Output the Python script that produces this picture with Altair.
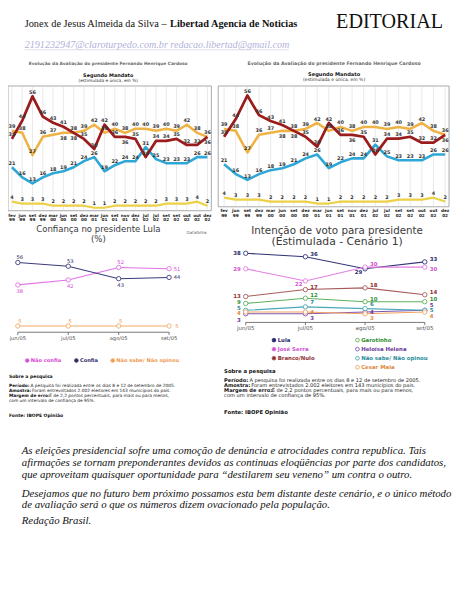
import altair as alt
import pandas as pd

# ---------------- Avaliação do presidente FHC (Segundo Mandato) ----------------
fhc_meses = ["fev", "jun", "set", "dez", "mar", "jun", "set", "dez", "mar", "jun",
             "set", "nov", "dez", "jul", "jul", "set", "set", "out", "out", "dez"]
fhc_anos = ["99", "99", "99", "99", "00", "00", "00", "00", "01", "01",
            "01", "01", "01", "02", "02", "02", "02", "02", "02", "02"]
fhc_series = ["Não sabe", "Ótimo/Bom", "Regular", "Ruim/Péssimo"]
fhc_ns = [4, 3, 3, 3, 2, 2, 2, 2, 1, 1, 2, 2, 2, 2, 2, 3, 3, 3, 4, 2]
fhc_otimo = [21, 16, 13, 16, 18, 19, 21, 24, 26, 19, 22, 24, 24, 31, 25, 23, 23, 23, 26, 26]
fhc_regular = [39, 38, 27, 36, 37, 38, 38, 39, 42, 38, 40, 38, 40, 40, 39, 40, 39, 42, 38, 36]
fhc_ruim = [35, 44, 56, 46, 43, 41, 38, 35, 30, 42, 36, 36, 35, 26, 34, 34, 35, 32, 32, 36]
fhc_cores = ["#ecd045", "#2ea6d6", "#efb244", "#9b1c1c"]

# ---------------- Confiança no presidente Lula ----------------
conf_meses = ["jun/05", "jul/05", "ago/05", "set/05"]
conf_series = ["Não confia", "Confia", "Não sabe/ Não opinou"]
conf_nao = [38, 42, 52, 51]
conf_sim = [56, 53, 43, 44]
conf_ns = [5, 5, 5, 5]
conf_cores = ["#e272e6", "#3c3c7c", "#f4aa66"]
conf_cores_txt = ["#d545d5", "#2c2c66", "#f09a50"]

# ---------------- Intenção de voto (Estimulada - Cenário 1) ----------------
voto_meses = ["jun/05", "jul/05", "ago/05", "set/05"]
voto_series = ["Lula", "José Serra", "Branco/Nulo", "Garotinho",
               "Heloísa Helena", "Não sabe/ Não opinou", "Cesar Maia"]
voto_lula = [38, 36, 29, 33]
voto_serra = [29, 22, 30, 30]
voto_branco = [13, 17, 18, 14]
voto_garotinho = [9, 12, 10, 10]
voto_heloisa = [3, 3, 4, 5]
voto_ns = [5, 7, 6, 5]
voto_cesar = [4, 4, 3, 4]
voto_cores = ["#35357a", "#e37de3", "#a85a5a", "#5cb05c", "#7b55b5", "#4aa8b8", "#f3a35f"]
voto_cores_txt = ["#2a2a6a", "#d050d0", "#903030", "#2f8f2f", "#6a3a9a", "#2a8a9a", "#e08a40"]

nota_linhas = [
    ("Período:", "A pesquisa foi realizada entre os dias 8 e 12 de setembro de 2005."),
    ("Amostra:", "Foram entrevistados 2.002 eleitores em 143 municípios do país."),
    ("Margem de erro:", "É de 2,2 pontos percentuais, para mais ou para menos,"),
    ("", "com um intervalo de confiança de 95%."),
]

editorial = [
    "As eleições presidencial sofre uma comoção de denúncia e atrocidades contra republica. Tais",
    "afirmações se tornam preponderantes devidos as continuas eloqüências por parte dos candidatos,",
    "que aproveitam quaisquer oportunidade para \u201cdestilarem seu veneno\u201d um contra o outro.",
    "Desejamos que no futuro bem próximo possamos esta bem distante deste cenário, e o único método",
    "de avaliação será o que os números dizem ovacionado pela população.",
    "Redação Brasil.",
]

FONT = "DejaVu Sans"
SERIF = "Liberation Serif"
one = pd.DataFrame({"k": [0]})


def label(text, x, y, size, color="#222", weight="normal", align="left",
          font=FONT, style="normal"):
    return alt.Chart(pd.DataFrame({"t": [text]})).mark_text(
        align=align, baseline="middle", font=font, fontSize=size,
        fontWeight=weight, fontStyle=style, color=color
    ).encode(x=alt.value(x), y=alt.value(y), text="t:N")


def bold_w(s, f):
    w = 0.0
    for c in s:
        if c == " ":
            w += 0.35
        elif c in ":.,":
            w += 0.38
        elif c in "iíjltfr":
            w += 0.42
        elif c in "mM":
            w += 1.0
        elif c.isupper():
            w += 0.76
        else:
            w += 0.66
    return w * f


def fhc_panel(xr, yr, box, cx, tys, tsizes, lab_y):
    n = len(fhc_meses)
    meses = pd.DataFrame({"i": list(range(n)), "mes": fhc_meses, "ano": fhc_anos})
    vals = dict(zip(fhc_series, [fhc_ns, fhc_otimo, fhc_regular, fhc_ruim]))
    long = pd.DataFrame([{"i": i, "serie": s, "v": v}
                         for s in fhc_series for i, v in enumerate(vals[s])])
    xs = alt.Scale(domain=[0, n - 1], range=list(xr), nice=False, zero=False)
    ys = alt.Scale(domain=[0, 56], range=list(yr), nice=False, zero=False)
    X = alt.X("i:Q", scale=xs, axis=None)
    Y = alt.Y("v:Q", scale=ys, axis=None)
    L = [
        alt.Chart(one).mark_rect(fill="white", stroke="#a8a8a8", strokeWidth=1).encode(
            x=alt.value(box[0]), x2=alt.value(box[2]), y=alt.value(box[1]), y2=alt.value(box[3])),
        alt.Chart(meses).mark_rule(color="#e4e4e4", strokeWidth=0.8).encode(
            x=X, y=alt.value(box[1] + 1), y2=alt.value(box[3] - 1)),
    ]
    for s, c, w in zip(fhc_series, fhc_cores, [2.2, 2.6, 2.6, 2.8]):
        L.append(alt.Chart(long).transform_filter(alt.datum.serie == s).mark_line(
            color=c, strokeWidth=w, strokeJoin="round").encode(x=X, y=Y))
    ranked = alt.Chart(long).transform_window(
        r="row_number()", groupby=["i"], sort=[alt.SortField("v", order="descending"),
                                               alt.SortField("serie", order="ascending")]
    ).transform_joinaggregate(maxv="max(v)", groupby=["i"])
    below = "datum.r == 2 && datum.maxv - datum.v <= 3"
    lab = dict(font=FONT, fontSize=5.0, fontWeight="bold", color="#333")
    L.append(ranked.transform_filter("!(%s)" % below).mark_text(dy=-4.5, **lab)
             .encode(x=X, y=Y, text="v:Q"))
    L.append(ranked.transform_filter(below).mark_text(dy=5.5, **lab)
             .encode(x=X, y=Y, text="v:Q"))
    L.append(alt.Chart(meses).mark_text(font=FONT, fontSize=4.3, fontWeight="bold",
                                        color="#222").encode(x=X, y=alt.value(lab_y[0]), text="mes:N"))
    L.append(alt.Chart(meses).mark_text(font=FONT, fontSize=4.3, fontWeight="bold",
                                        color="#222").encode(x=X, y=alt.value(lab_y[1]), text="ano:N"))
    L.append(label("Evolução da Avaliação do presidente Fernando Henrique Cardoso", cx, tys[0],
                   tsizes[0], color="#6a6a6a", weight="bold", align="center"))
    L.append(label("Segundo Mandato", cx, tys[1], tsizes[1], color="#111", weight="bold", align="center"))
    L.append(label("(estimulada e única, em %)", cx, tys[2], tsizes[2], color="#333", align="center"))
    return alt.layer(*L)


def legend_color_expr(series, colors):
    expr = "'%s'" % colors[-1]
    for s, c in reversed(list(zip(series[:-1], colors[:-1]))):
        expr = "datum.label === '%s' ? '%s' : (%s)" % (s, c, expr)
    return expr


def make_legend(x, y, series, colors_txt, values, fs, **kw):
    return alt.Legend(orient="none", legendX=x, legendY=y, title=None, values=values,
                      labelFont=FONT, labelFontSize=fs, labelFontWeight="bold",
                      labelColor={"expr": legend_color_expr(series, colors_txt)},
                      symbolType="circle", symbolSize=14, symbolStrokeWidth=0.9,
                      symbolFillColor="white", labelOffset=1, padding=0, **kw)


def axis_layers(xs, meses_df, y_axis, y_lab, fs):
    X = alt.X("m:Q", scale=xs, axis=None)
    return [
        alt.Chart(pd.DataFrame({"a": [0], "b": [len(meses_df) - 1]})).mark_rule(
            color="#555", strokeWidth=0.8).encode(
            x=alt.X("a:Q", scale=xs, axis=None), x2="b:Q", y=alt.value(y_axis)),
        alt.Chart(meses_df).mark_rule(color="#555", strokeWidth=0.8).encode(
            x=X, y=alt.value(y_axis), y2=alt.value(y_axis + 2.8)),
        alt.Chart(meses_df).mark_text(font=FONT, fontSize=fs, color="#555").encode(
            x=X, y=alt.value(y_lab), text="mes:N"),
    ]


def conf_panel():
    meses = pd.DataFrame({"m": list(range(4)), "mes": conf_meses})
    vals = dict(zip(conf_series, [conf_nao, conf_sim, conf_ns]))
    long = pd.DataFrame([{"m": i, "serie": s, "v": v}
                         for s in conf_series for i, v in enumerate(vals[s])])
    xs = alt.Scale(domain=[0, 3], range=[10, 164], nice=False, zero=False)
    ys = alt.Scale(domain=[0, 56], range=[324.7, 253.7], nice=False, zero=False)
    X = alt.X("m:Q", scale=xs, axis=None)
    Y = alt.Y("v:Q", scale=ys, axis=None)
    color = alt.Color("serie:N", scale=alt.Scale(domain=conf_series, range=conf_cores),
                      legend=make_legend(17, 350.5, conf_series, conf_cores_txt, conf_series, 5.2,
                                         direction="horizontal", columnPadding=10))
    fill = alt.Fill("serie:N", scale=alt.Scale(domain=conf_series, range=conf_cores_txt), legend=None)
    base = alt.Chart(long).transform_joinaggregate(maxv="max(v)", groupby=["m"])
    L = axis_layers(xs, meses, 324.7, 331, 5.3)
    L.append(alt.Chart(long).mark_line(
        strokeWidth=1.1,
        point=alt.OverlayMarkDef(filled=False, fill="white", size=20, strokeWidth=0.9)
    ).encode(x=X, y=Y, color=color))
    txt = dict(font=FONT, fontSize=5.3)
    L.append(base.transform_filter("datum.m < 3 && (datum.v == datum.maxv || datum.serie == 'Não sabe/ Não opinou')")
             .mark_text(dy=-5.5, dx=2, **txt).encode(x=X, y=Y, text="v:Q", fill=fill))
    L.append(base.transform_filter("datum.m < 3 && datum.v != datum.maxv && datum.serie != 'Não sabe/ Não opinou'")
             .mark_text(dy=6.5, dx=2, **txt).encode(x=X, y=Y, text="v:Q", fill=fill))
    L.append(base.transform_filter("datum.m == 3")
             .mark_text(dx=8, **txt).encode(x=X, y=Y, text="v:Q", fill=fill))
    L.append(label("Confiança no presidente Lula", 92, 220, 8.7, color="#3a3a3a", align="center"))
    L.append(label("(%)", 92, 230, 8.7, color="#3a3a3a", align="center"))
    L.append(label("Datafolha", 192, 224, 4.2, color="#666", align="center"))
    return alt.layer(*L)


def voto_panel():
    meses = pd.DataFrame({"m": list(range(4)), "mes": voto_meses})
    vals = dict(zip(voto_series, [voto_lula, voto_serra, voto_branco, voto_garotinho,
                                  voto_heloisa, voto_ns, voto_cesar]))
    long = pd.DataFrame([{"m": i, "serie": s, "v": v}
                         for s in voto_series for i, v in enumerate(vals[s])])
    xs = alt.Scale(domain=[0, 3], range=[242, 424.3], nice=False, zero=False)
    ys = alt.Scale(domain=[0, 38], range=[311.2, 244.3], nice=False, zero=False)
    X = alt.X("m:Q", scale=xs, axis=None)
    Y = alt.Y("v:Q", scale=ys, axis=None)
    col1, col2 = voto_series[:3], voto_series[3:]
    color = alt.Color("serie:N", scale=alt.Scale(domain=voto_series, range=voto_cores),
                      legend=make_legend(268, 330, voto_series, voto_cores_txt, col1, 5.5,
                                         direction="vertical", rowPadding=1.2))
    stroke = alt.Stroke("serie:N", scale=alt.Scale(domain=col2, range=voto_cores[3:]),
                        legend=make_legend(353, 330, col2, voto_cores_txt[3:], col2, 5.5,
                                           direction="vertical", rowPadding=1.2))
    fill = alt.Fill("serie:N", scale=alt.Scale(domain=voto_series, range=voto_cores_txt), legend=None)
    in_col1 = alt.FieldOneOfPredicate(field="serie", oneOf=col1)
    in_col2 = alt.FieldOneOfPredicate(field="serie", oneOf=col2)
    L = axis_layers(xs, meses, 314.7, 320.5, 5.6)
    L.append(alt.Chart(long).mark_line(strokeWidth=1.1).encode(x=X, y=Y, color=color))
    L.append(alt.Chart(long).transform_filter(in_col1).mark_point(
        filled=False, fill="white", size=20, strokeWidth=0.9, opacity=1).encode(x=X, y=Y, color=color))
    L.append(alt.Chart(long).transform_filter(in_col2).mark_point(
        filled=False, fill="white", size=20, strokeWidth=0.9, opacity=1).encode(x=X, y=Y, stroke=stroke))
    ranked = alt.Chart(long).transform_window(
        r="row_number()", groupby=["m"], sort=[alt.SortField("v", order="descending"),
                                               alt.SortField("serie", order="ascending")])
    txt = dict(font=FONT, fontSize=5.5, fontWeight="bold")
    rules = [
        ("datum.m == 0 && datum.r <= 3", 0, "right", -5),
        ("datum.m == 0 && datum.r == 4", -1.5, "right", -5),
        ("datum.m == 0 && datum.r == 5", -2, "right", -5),
        ("datum.m == 0 && datum.r == 6", 1.5, "right", -5),
        ("datum.m == 0 && datum.r == 7", 6, "right", -5),
        ("datum.m > 0 && (datum.r == 1 || datum.r == 3 || datum.r == 4)", -3, "left", 5),
        ("(datum.m == 1 || datum.m == 2) && datum.r == 2", 3, "right", -3),
        ("datum.m == 3 && datum.r == 2", 2, "left", 5),
        ("datum.m > 0 && datum.r == 5", -5, "left", 5),
        ("datum.m > 0 && datum.r == 6", 0, "left", 5),
        ("datum.m > 0 && datum.r == 7", 4.5, "left", 5),
    ]
    for cond, dy, align, dx in rules:
        L.append(ranked.transform_filter(cond).mark_text(align=align, dx=dx, dy=dy, **txt)
                 .encode(x=X, y=Y, text="v:Q", fill=fill))
    L.append(label("Intenção de voto para presidente", 335, 221.5, 10.5, color="#3a3a3a", align="center"))
    L.append(label("(Estimulada - Cenário 1)", 335, 233, 11.0, color="#3a3a3a", align="center"))
    return alt.layer(*L)


def nota(x, y_title, ys, y_fonte, f_title, f):
    L = [label("Sobre a pesquisa", x, y_title, f_title, color="#111", weight="bold")]
    for (b, t), y in zip(nota_linhas, ys):
        if b:
            L.append(label(b, x, y, f, color="#111", weight="bold"))
            L.append(label(t, x + bold_w(b + " ", f), y, f, color="#222"))
        else:
            L.append(label(t, x, y, f, color="#222"))
    L.append(label("Fonte: IBOPE Opinião", x, y_fonte, f_title, color="#111", weight="bold"))
    return L


layers = [
    label("Jonex de Jesus Almeida da Silva \u2013 ", 17, 11, 10.5, color="#111", font=SERIF),
    label("Libertad Agencia de Noticias", 165, 11, 10.5, color="#111", weight="bold", font=SERIF),
    label("EDITORIAL", 334, 8.5, 20.5, color="#111", font=SERIF),
    label("2191232947@claroturpedo.com.br redacao.libertad@gmail.com", 17, 32.5, 10.3,
          color="#b2b2da", font=SERIF, style="italic"),
    alt.Chart(one).mark_rule(color="#c8c8e6", strokeWidth=0.6).encode(
        x=alt.value(17), x2=alt.value(286), y=alt.value(37.2)),
    fhc_panel((4, 203), (200, 84.6), (0, 74, 207, 201), 102, (52, 62.7, 68.7),
              (4.4, 5.0, 4.4), (206, 210.5)),
    fhc_panel((220, 445), (195.7, 83.7), (214, 74, 449, 197), 332, (52, 62, 68),
              (4.8, 5.2, 4.6), (201.5, 206)),
    conf_panel(),
    voto_panel(),
]
layers += nota(1, 370.7, [379.7, 384.7, 389.7, 394.7], 410, 4.6, 4.4)
layers += nota(220, 364.3, [373.7, 378.7, 383.7, 388.7], 406, 5.4, 5.2)
for txt_line, y in zip(editorial, [446, 458, 470, 489, 501, 517]):
    layers.append(label(txt_line, 14, y, 11.0, color="#111", font=SERIF, style="italic"))

chart = alt.layer(*layers).resolve_scale(
    x="independent", y="independent", color="independent", fill="independent",
    stroke="independent"
).properties(
    width=452, height=597, padding=0, background="white",
    autosize=alt.AutoSizeParams(type="none"),
).configure_view(stroke=None)

chart.save("out.html", embed_options={"renderer": "svg", "actions": False})
